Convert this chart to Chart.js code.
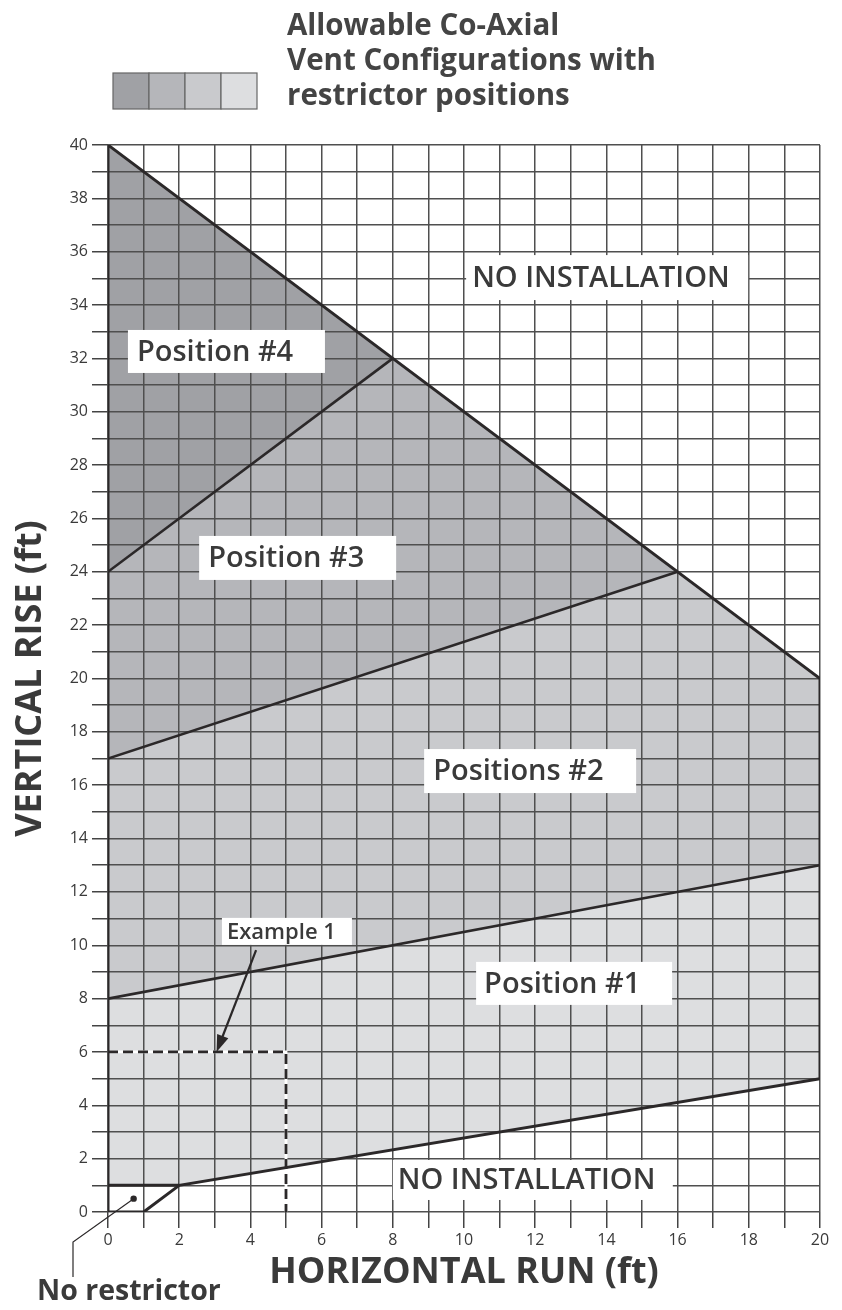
<!DOCTYPE html>
<html>
<head>
<meta charset="utf-8">
<script src="https://cdn.jsdelivr.net/npm/chart.js@4/dist/chart.umd.min.js"></script>
<style>
  html, body { margin: 0; padding: 0; background: #fff; }
  #wrap { width: 842px; height: 1310px; position: relative; }
</style>
</head>
<body>
<div id="wrap"><canvas id="ventChart"></canvas></div>
<script>
// ---- chart data (ft) ----
const xTicks = [0, 2, 4, 6, 8, 10, 12, 14, 16, 18, 20];
const yTicks = [0, 2, 4, 6, 8, 10, 12, 14, 16, 18, 20, 22, 24, 26, 28, 30, 32, 34, 36, 38, 40];

// upper limit of allowable installs
const limitRun  = [0, 8, 16, 20];
const limitRise = [40, 32, 24, 20];

// restrictor position boundaries
const pos34Run  = [0, 8];
const pos34Rise = [24, 32];
const pos23Run  = [0, 16];
const pos23Rise = [17, 24];
const pos12Run  = [0, 20];
const pos12Rise = [8, 13];

// lower limit (below = no installation)
const lowerRun  = [0, 2, 20];
const lowerRise = [1, 1, 5];

// full outline of allowable area
const outlineRun  = [0, 0, 20, 20, 2, 1, 0];
const outlineRise = [0, 40, 20, 5, 1, 0, 0];

// example 1 : 5 ft run, 6 ft rise
const exampleRun  = [0, 5, 5];
const exampleRise = [6, 6, 0];

const legendColors = ['#a0a1a5', '#b5b6ba', '#c9cacd', '#dddee0'];
const titleLines = ['Allowable Co-Axial', 'Vent Configurations with', 'restrictor positions'];

const pts = (xs, ys) => xs.map((x, i) => ({ x, y: ys[i] }));

const FONT = "'Open Sans', 'Noto Sans', sans-serif";
const INK = '#2b2829';
const TXT = '#3a3a3a';

// text annotations (data units for anchor)
const notes = [
  { text: 'NO INSTALLATION', x: 10.06, y: 35.03, w: 282, h: 45, size: 29, pad: 6 },
  { text: 'Position #4', x: 0.56, y: 32.26, w: 197, h: 43, size: 29, pad: 9 },
  { text: 'Position #3', x: 2.56, y: 24.52, w: 197, h: 44, size: 29, pad: 9 },
  { text: 'Positions #2', x: 8.88, y: 16.53, w: 212, h: 44, size: 29, pad: 9 },
  { text: 'Position #1', x: 10.34, y: 8.57, w: 196, h: 43, size: 29, pad: 8 },
  { text: 'NO INSTALLATION', x: 8.0, y: 1.2, w: 280, h: 40, size: 29, pad: 5 },
  { text: 'Example 1', x: 3.2, y: 10.52, w: 130, h: 27, size: 22, pad: 5 }
];

const fillSet = (xs, ys, color, order) => ({
  data: pts(xs, ys), backgroundColor: color, borderWidth: 0,
  pointRadius: 0, fill: 'start', order
});
const lineSet = (xs, ys, width, order, extra) => Object.assign({
  data: pts(xs, ys), borderColor: INK, borderWidth: width,
  pointRadius: 0, fill: false, order, borderJoinStyle: 'miter'
}, extra || {});

const annotate = {
  id: 'annotate',
  afterDraw(chart) {
    const { ctx, scales: { x, y }, chartArea } = chart;
    ctx.save();

    // legend swatches + title
    let sx = 113;
    legendColors.forEach(c => {
      ctx.fillStyle = c;
      ctx.fillRect(sx, 73, 36, 36);
      ctx.strokeStyle = '#666';
      ctx.lineWidth = 1.2;
      ctx.strokeRect(sx, 73, 36, 36);
      sx += 36;
    });
    ctx.fillStyle = '#444';
    ctx.font = `bold 29.5px ${FONT}`;
    ctx.textBaseline = 'middle';
    titleLines.forEach((t, i) => ctx.fillText(t, 287, 27 + i * 35));

    // label boxes
    notes.forEach(n => {
      const px = x.getPixelForValue(n.x);
      const py = y.getPixelForValue(n.y);
      ctx.fillStyle = '#fff';
      ctx.fillRect(px, py - n.h / 2, n.w, n.h);
      ctx.fillStyle = TXT;
      ctx.font = `600 ${n.size}px ${FONT}`;
      ctx.textBaseline = 'middle';
      ctx.fillText(n.text, px + n.pad, py + 1);
    });

    // arrow from Example 1 to the example point
    const ax0 = x.getPixelForValue(4.16), ay0 = y.getPixelForValue(9.82);
    const ax1 = x.getPixelForValue(3.05), ay1 = y.getPixelForValue(6.0);
    const ang = Math.atan2(ay1 - ay0, ax1 - ax0);
    ctx.strokeStyle = INK;
    ctx.lineWidth = 2.2;
    ctx.beginPath();
    ctx.moveTo(ax0, ay0);
    ctx.lineTo(ax1 - 12 * Math.cos(ang), ay1 - 12 * Math.sin(ang));
    ctx.stroke();
    ctx.fillStyle = INK;
    ctx.beginPath();
    ctx.moveTo(ax1, ay1);
    ctx.lineTo(ax1 - 17 * Math.cos(ang) + 6 * Math.sin(ang), ay1 - 17 * Math.sin(ang) - 6 * Math.cos(ang));
    ctx.lineTo(ax1 - 17 * Math.cos(ang) - 6 * Math.sin(ang), ay1 - 17 * Math.sin(ang) + 6 * Math.cos(ang));
    ctx.closePath();
    ctx.fill();

    // "No restrictor" leader
    const dx = x.getPixelForValue(0.72), dy = y.getPixelForValue(0.5);
    ctx.beginPath();
    ctx.arc(dx, dy, 3.2, 0, Math.PI * 2);
    ctx.fill();
    ctx.lineWidth = 1.2;
    ctx.beginPath();
    ctx.moveTo(dx, dy);
    ctx.lineTo(chartArea.left - 35, chartArea.bottom + 30);
    ctx.lineTo(chartArea.left - 35, chartArea.bottom + 65);
    ctx.stroke();
    ctx.fillStyle = TXT;
    ctx.font = `bold 28.5px ${FONT}`;
    ctx.textBaseline = 'middle';
    ctx.fillText('No restrictor', 37, 1292);

    ctx.restore();
  }
};

new Chart(document.getElementById('ventChart'), {
  type: 'line',
  data: {
    datasets: [
      lineSet(outlineRun, outlineRise, 3, 0),
      lineSet(lowerRun.slice(0, 2), lowerRise.slice(0, 2), 3, 1),
      lineSet(pos34Run, pos34Rise, 2.6, 2),
      lineSet(pos23Run, pos23Rise, 2.6, 3),
      lineSet(pos12Run, pos12Rise, 2.6, 4),
      lineSet(exampleRun, exampleRise, 2.8, 5, { borderDash: [10, 5], borderJoinStyle: 'miter' }),
      lineSet(exampleRun, exampleRise, 2.8, 6, { borderColor: '#fff' }),
      fillSet(lowerRun, lowerRise, '#ffffff', 10),
      fillSet(pos12Run, pos12Rise, legendColors[3], 11),
      fillSet([...pos23Run, 20], [...pos23Rise, 20], legendColors[2], 12),
      fillSet([...pos34Run, 16, 20], [...pos34Rise, 24, 20], legendColors[1], 13),
      fillSet(limitRun, limitRise, legendColors[0], 14)
    ]
  },
  options: {
    responsive: true,
    maintainAspectRatio: false,
    animation: false,
    layout: { padding: { top: 145, right: 22, left: 0, bottom: 0 } },
    plugins: {
      legend: { display: false },
      tooltip: { enabled: false },
      filler: { drawTime: 'beforeDraw', propagate: false }
    },
    scales: {
      x: {
        type: 'linear', min: 0, max: 20,
        afterFit: s => { s.height = 98; },
        ticks: {
          stepSize: 1, autoSkip: false, maxRotation: 0,
          color: TXT, font: { family: FONT, size: 16 }, padding: 3,
          callback: v => (xTicks.includes(v) ? v : '')
        },
        grid: { color: '#4f4f4f', lineWidth: 1.5, tickLength: 16, tickColor: '#444' },
        border: { display: false },
        title: {
          display: true, text: 'HORIZONTAL RUN (ft)', color: TXT,
          font: { family: FONT, size: 36, weight: 'bold' }, padding: { top: 2, bottom: 16 }
        }
      },
      y: {
        type: 'linear', min: 0, max: 40,
        afterFit: s => { s.width = 108; },
        ticks: {
          stepSize: 1, autoSkip: false,
          color: TXT, font: { family: FONT, size: 16 }, padding: 4,
          callback: v => (yTicks.includes(v) ? v : '')
        },
        grid: { color: '#4f4f4f', lineWidth: 1.5, tickLength: 16, tickColor: '#444' },
        border: { display: false },
        title: {
          display: true, text: 'VERTICAL RISE (ft)', color: TXT,
          font: { family: FONT, size: 36, weight: 'bold' }, padding: { top: 9, bottom: 0 }
        }
      }
    }
  },
  plugins: [annotate]
});
</script>
</body>
</html>
